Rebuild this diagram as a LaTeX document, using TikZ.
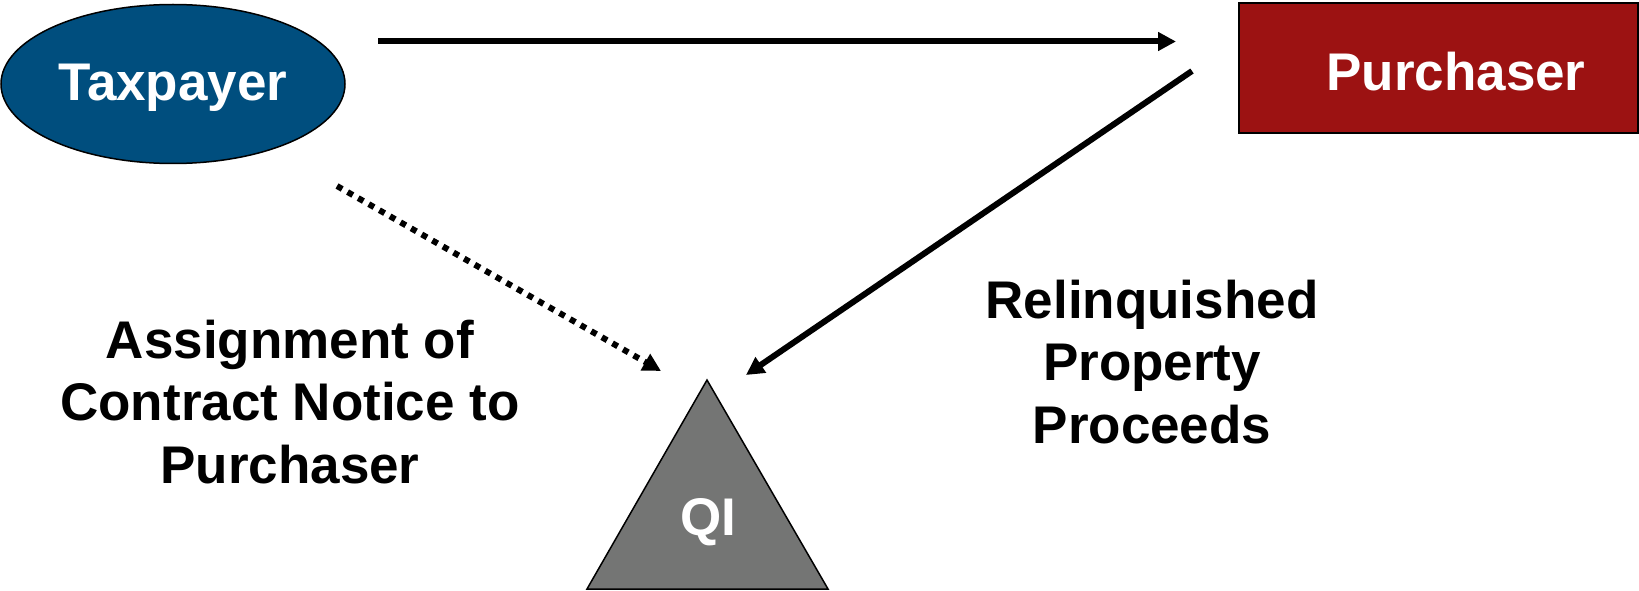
\documentclass[tikz,border=0pt]{standalone}
\usepackage{fontspec}
\setmainfont{Liberation Sans}
\usetikzlibrary{arrows.meta,shapes.geometric}
\definecolor{taxblue}{RGB}{0,78,126}
\definecolor{purred}{RGB}{156,18,18}
\definecolor{qigray}{RGB}{116,117,116}
\tikzset{
  bigtext/.style={font=\fontsize{53}{62.5}\selectfont\bfseries},
  flowline/.style={line width=6pt,-{Triangle[length=18pt,width=18pt]}},
  dotline/.style={line width=6pt,dash pattern=on 6pt off 6.2pt,-{Triangle[length=18pt,width=18pt]}},
}
\begin{document}
\begin{tikzpicture}[x=1pt,y=-1pt]
\useasboundingbox (0,0) rectangle (1639,591);
% Taxpayer ellipse
\node[ellipse,draw=black,line width=1.5pt,fill=taxblue,minimum width=344pt,minimum height=159pt,inner sep=0pt] (tax) at (173,84) {};
\node[bigtext,text=white] (taxt) at (173,88) {Taxpayer};
% Purchaser rectangle
\node[rectangle,draw=black,line width=2pt,fill=purred,minimum width=399pt,minimum height=130pt,inner sep=0pt] (pur) at (1438,68) {};
\node[bigtext,text=white] (purt) at (1456,72) {Purchaser};
% QI triangle
\draw[fill=qigray,draw=black,line width=1.5pt] (707,380) coordinate (qitop) -- (828,589) coordinate (qir) -- (587,589) coordinate (qil) -- cycle;
\node[bigtext,text=white] (qi) at (708,522) {QI};
% connectors
\coordinate (a1) at (378,41.5);
\coordinate (a2) at (1176,41.5);
\draw[flowline] (a1) -- (a2);
\coordinate (b1) at (1192,71);
\coordinate (b2) at (746,375);
\draw[flowline] (b1) -- (b2);
\coordinate (c1) at (337,186);
\coordinate (c2) at (661,371);
\draw[dotline] (c1) -- (c2);
% labels
\node[bigtext,align=center] (lab1) at (290,402) {Assignment of\\Contract Notice to\\Purchaser};
\node[bigtext,align=center] (lab2) at (1152,362) {Relinquished\\Property\\Proceeds};
\end{tikzpicture}
\end{document}
